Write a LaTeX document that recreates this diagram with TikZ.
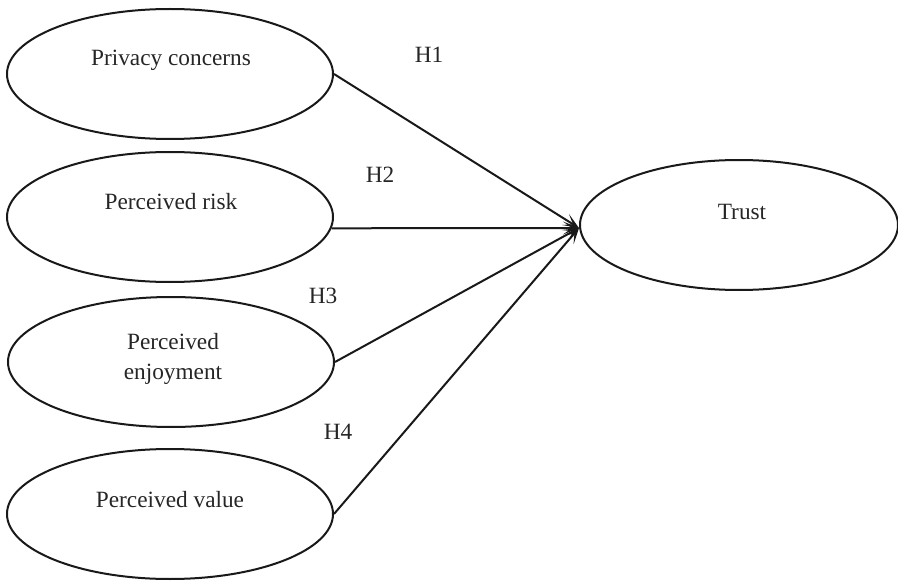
\documentclass[tikz,border=0pt]{standalone}
\usepackage{fontspec}
\setmainfont{Liberation Serif}
\usetikzlibrary{shapes.geometric,arrows.meta}
\begin{document}
\begin{tikzpicture}[x=1pt,y=-1pt,
  ell/.style={draw=black!90,line width=2pt,ellipse,inner sep=0pt,minimum width=326pt,minimum height=130pt},
  lbl/.style={inner sep=0pt,font=\fontsize{23.3}{30}\selectfont,text=black!85,align=center},
  conn/.style={draw=black!90,line width=2pt,-{Stealth[length=16pt,width=13pt,inset=9pt]}}]
\useasboundingbox (0,0) rectangle (898,583);
\node[ell] (pc) at (170,74) {};
\node[ell] (pr) at (170,217) {};
\node[ell] (pe) at (171,362) {};
\node[ell] (pv) at (170,514) {};
\node[ell,minimum width=318pt] (tr) at (739,225) {};
\node[lbl] (pct) at (171,60) {Privacy concerns};
\node[lbl] (prt) at (171,202) {Perceived risk};
\node[lbl] (pet) at (173,359) {Perceived\\enjoyment};
\node[lbl] (pvt) at (170,500) {Perceived value};
\node[lbl] (trt) at (742,212) {Trust};
\node[lbl] (h1) at (429,55) {H1};
\node[lbl] (h2) at (380,175) {H2};
\node[lbl] (h3) at (323,296) {H3};
\node[lbl] (h4) at (338,432) {H4};
\coordinate (tip) at ([yshift=-3pt]tr.west);
\draw[conn] (pc.east) -- (tip);
\draw[conn] (pr.-4.5) -- (tip);
\draw[conn] (pe.east) -- (tip);
\draw[conn] (pv.east) -- (tip);
\end{tikzpicture}
\end{document}
